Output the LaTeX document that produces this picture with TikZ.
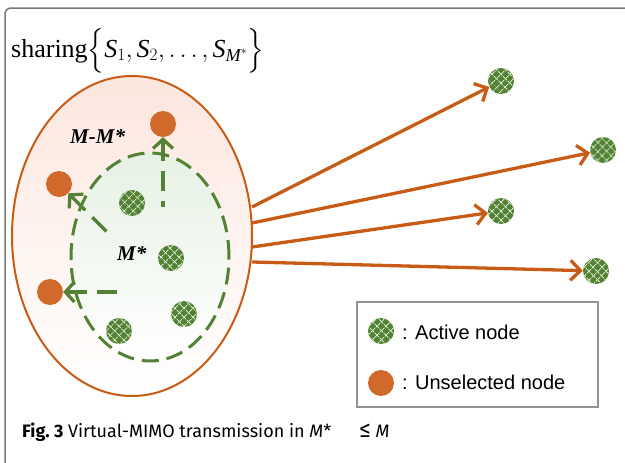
\documentclass[tikz,border=0pt]{standalone}
\usepackage{amsmath}
\usepackage{fontspec}
\setmainfont{Liberation Serif}
\newfontfamily\legendfont{Liberation Sans}
\newfontfamily\capfont{Fira Sans}
\usetikzlibrary{arrows.meta,patterns.meta}
\definecolor{orn}{RGB}{208,105,42}
\definecolor{ornline}{RGB}{200,92,22}
\definecolor{grn}{RGB}{84,130,53}
\definecolor{hatch}{RGB}{215,230,205}
\definecolor{pinkfill}{RGB}{252,230,222}
\definecolor{greenfill}{RGB}{230,241,228}
\definecolor{framegray}{RGB}{120,120,120}
\tikzset{
  active/.style={circle, minimum size=26pt, inner sep=0pt, fill=grn,
    postaction={pattern={Lines[angle=45,distance=6.5pt,line width=0.8pt]}, pattern color=hatch},
    postaction={pattern={Lines[angle=-45,distance=6.5pt,line width=0.8pt]}, pattern color=hatch}},
  unsel/.style={circle, minimum size=26pt, inner sep=0pt, fill=orn},
  garrow/.style={draw=grn, line width=3.3pt, dash pattern=on 20pt off 10pt,
    {Straight Barb[length=9pt,width=20pt]}-},
  oarrow/.style={draw=ornline, line width=3.3pt, -{Straight Barb[length=10pt,width=20pt]}},
  lbl/.style={inner sep=0pt, font=\fontsize{21}{24}\selectfont\bfseries\itshape},
  legtext/.style={inner sep=0pt, anchor=base west, font=\legendfont\fontsize{20}{23}\selectfont},
  legendbox/.style={draw=framegray!80, line width=2pt, fill=white, inner sep=0pt}
}
\begin{document}
\begin{tikzpicture}[x=1pt,y=-1pt]
\useasboundingbox (0,0) rectangle (625,463);
\clip (0,0) rectangle (625,463);
\fill[white] (0,0) rectangle (625,463);
% frame
\draw[framegray, line width=1.5pt, rounded corners=6pt] (640,8) -- (5,8) -- (5,480);
% title
\node[anchor=base west, inner sep=0pt] (title) at (11,57)
  {\fontsize{26}{30}\selectfont sharing$\Big\{\textit{S}_{1},\textit{S}_{2},\ldots,\textit{S}_{\textit{M}^{*}}\Big\}$};
% outer ellipse
\draw[ornline, line width=2pt, top color=pinkfill, bottom color=white]
  (132,236) ellipse [x radius=120pt, y radius=160pt];
% inner dashed ellipse
\draw[grn, line width=3pt, dash pattern=on 17pt off 8pt, top color=greenfill, bottom color=white]
  (150,257) ellipse [x radius=79pt, y radius=104pt];
% labels
\node[lbl, anchor=base west] (mm) at (70,143) {M-M*};
\node[lbl, anchor=base west] (ms) at (117,260) {M*};
% unselected nodes
\node[unsel] (u1) at (163,124) {};
\node[unsel] (u2) at (59,184) {};
\node[unsel] (u3) at (50,292) {};
% active nodes inside
\node[active] (a1) at (132,203) {};
\node[active] (a2) at (171,258) {};
\node[active] (a3) at (184,314) {};
\node[active] (a4) at (119,331) {};
% green dashed arrows (drawn from tip so the dash starts at the head)
\coordinate (g1) at (163,207);
\coordinate (g2) at (108,233);
\coordinate (g3) at (123,292);
\draw[garrow] (u1) -- (g1);
\draw[garrow] (u2) -- (g2);
\draw[garrow] (u3) -- (g3);
% outer active nodes
\node[active] (o1) at (501,81) {};
\node[active] (o2) at (603,150) {};
\node[active] (o3) at (501,211) {};
\node[active] (o4) at (596,271) {};
% orange arrows
\coordinate (s1) at (252,207);
\coordinate (s2) at (252,223);
\coordinate (s3) at (252,247);
\coordinate (s4) at (252,262);
\draw[oarrow] (s1) -- (o1);
\draw[oarrow] (s2) -- (o2);
\draw[oarrow] (s3) -- (o3);
\draw[oarrow] (s4) -- (o4);
% legend
\node[legendbox, minimum width=241pt, minimum height=105pt] (legend) at (477.5,354.5) {};
\node[active] (la) at (381,331) {};
\node[unsel] (lu) at (381,383) {};
\node[legtext] (lat) at (402,339) {: Active node};
\node[legtext] (lut) at (402,389) {: Unselected node};
% caption
\node[anchor=base west, inner sep=0pt, font=\capfont\fontsize{18}{21}\selectfont] (cap) at (22,437)
  {\textbf{Fig.\ 3} Virtual-MIMO transmission in \textit{M}*\hspace{28pt}{\fontsize{23}{21}\selectfont ≤} \textit{M}};
\end{tikzpicture}
\end{document}
